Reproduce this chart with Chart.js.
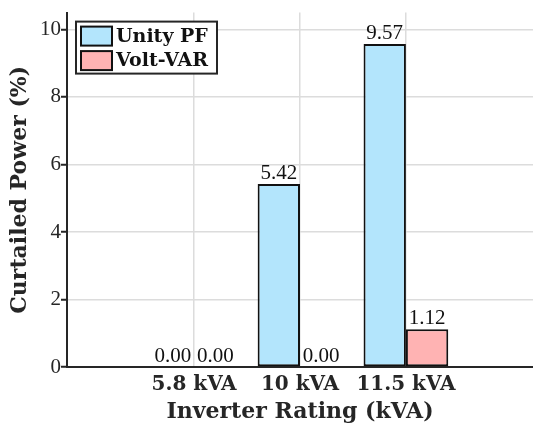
<!DOCTYPE html>
<html>
<head>
<meta charset="utf-8">
<script src="https://cdn.jsdelivr.net/npm/chart.js@4.4.1/dist/chart.umd.min.js"></script>
<style>
  html, body { margin: 0; padding: 0; background: #fff; }
  #wrap { width: 533px; height: 424px; }
</style>
</head>
<body>
<div id="wrap"><canvas id="curtailChart"></canvas></div>
<script>
// inverter ratings and curtailed power per control mode
var categories = ['5.8 kVA', '10 kVA', '11.5 kVA'];
var seriesNames = ['Unity PF', 'Volt-VAR'];
var unityPF = [0.00, 5.42, 9.57];
var voltVAR = [0.00, 0.00, 1.12];
var yTicks = [0, 2, 4, 6, 8, 10];

var serifBold = "'DejaVu Serif', 'Liberation Serif', serif";
var serifNum = "'Liberation Serif', 'DejaVu Serif', serif";
var axisDark = '#262626';
var gridLight = '#dcdcdc';

function toPoints(arr) {
    return arr.map(function (v, i) { return { x: i + 1, y: v }; });
}

// value labels above each bar
var barValues = {
    id: 'barValues',
    afterDatasetsDraw: function (chart) {
        var ctx = chart.ctx;
        ctx.save();
        ctx.font = '21px ' + serifNum;
        ctx.fillStyle = '#111';
        ctx.textAlign = 'center';
        ctx.textBaseline = 'alphabetic';
        chart.data.datasets.forEach(function (ds, di) {
            chart.getDatasetMeta(di).data.forEach(function (bar, i) {
                ctx.fillText(ds.data[i].y.toFixed(2), bar.x, bar.y - 5);
            });
        });
        ctx.restore();
    }
};

// boxed legend in the upper left corner of the axes
var boxLegend = {
    id: 'boxLegend',
    afterDraw: function (chart) {
        var ctx = chart.ctx;
        var area = chart.chartArea;
        var x0 = area.left + 9, y0 = area.top + 9;
        var w = 141, h = 52;
        ctx.save();
        ctx.fillStyle = '#fff';
        ctx.fillRect(x0, y0, w, h);
        ctx.lineWidth = 2;
        ctx.strokeStyle = axisDark;
        ctx.strokeRect(x0, y0, w, h);
        ctx.font = 'bold 19px ' + serifBold;
        ctx.textBaseline = 'middle';
        chart.data.datasets.forEach(function (ds, i) {
            var sy = y0 + 5 + i * 24.5;
            ctx.fillStyle = ds.backgroundColor;
            ctx.fillRect(x0 + 5, sy, 31, 19);
            ctx.lineWidth = 2;
            ctx.strokeStyle = '#111';
            ctx.strokeRect(x0 + 5, sy, 31, 19);
            ctx.fillStyle = '#111';
            ctx.fillText(ds.label, x0 + 40, sy + 10);
        });
        ctx.restore();
    }
};

var ctx = document.getElementById('curtailChart').getContext('2d');
var curtailChart = new Chart(ctx, {
    type: 'bar',
    data: {
        datasets: [{
            label: seriesNames[0],
            data: toPoints(unityPF),
            backgroundColor: '#b3e5fc',
            borderColor: '#111',
            borderWidth: 2,
            borderSkipped: false,
            categoryPercentage: 0.8,
            barPercentage: 1.0
        }, {
            label: seriesNames[1],
            data: toPoints(voltVAR),
            backgroundColor: '#ffb3b3',
            borderColor: '#111',
            borderWidth: 2,
            borderSkipped: false,
            categoryPercentage: 0.8,
            barPercentage: 1.0
        }]
    },
    options: {
        responsive: true,
        maintainAspectRatio: false,
        animation: false,
        layout: { padding: { top: 10, right: 0, left: 0, bottom: 0 } },
        plugins: {
            legend: { display: false },
            tooltip: { enabled: false }
        },
        scales: {
            x: {
                type: 'linear',
                min: -0.2,
                max: 4.2,
                offset: false,
                afterBuildTicks: function (scale) {
                    scale.ticks = categories.map(function (c, i) { return { value: i + 1 }; });
                },
                afterFit: function (scale) { scale.height = 57; },
                ticks: {
                    autoSkip: false,
                    maxRotation: 0,
                    padding: 6,
                    color: '#262626',
                    font: { family: serifBold, size: 20, weight: 'bold' },
                    callback: function (v) { return categories[v - 1]; }
                },
                grid: { color: gridLight, lineWidth: 1.5, drawTicks: false, offset: false },
                border: { color: axisDark, width: 2 },
                title: {
                    display: true,
                    text: 'Inverter Rating (kVA)',
                    color: '#262626',
                    padding: { top: 0, bottom: -1 },
                    font: { family: serifBold, size: 22, weight: 'bold' }
                }
            },
            y: {
                min: 0,
                max: 10.5,
                afterBuildTicks: function (scale) {
                    scale.ticks = yTicks.map(function (t) { return { value: t }; });
                },
                afterFit: function (scale) { scale.width = 67; },
                ticks: {
                    padding: 0,
                    color: '#262626',
                    font: { family: serifNum, size: 21 }
                },
                grid: { color: gridLight, lineWidth: 1.5, tickColor: axisDark, tickLength: 6, tickWidth: 2 },
                border: { color: axisDark, width: 2 },
                title: {
                    display: true,
                    text: 'Curtailed Power (%)',
                    color: '#262626',
                    padding: { top: 7, bottom: 0 },
                    font: { family: serifBold, size: 22, weight: 'bold' }
                }
            }
        }
    },
    plugins: [barValues, boxLegend]
});
</script>
</body>
</html>
